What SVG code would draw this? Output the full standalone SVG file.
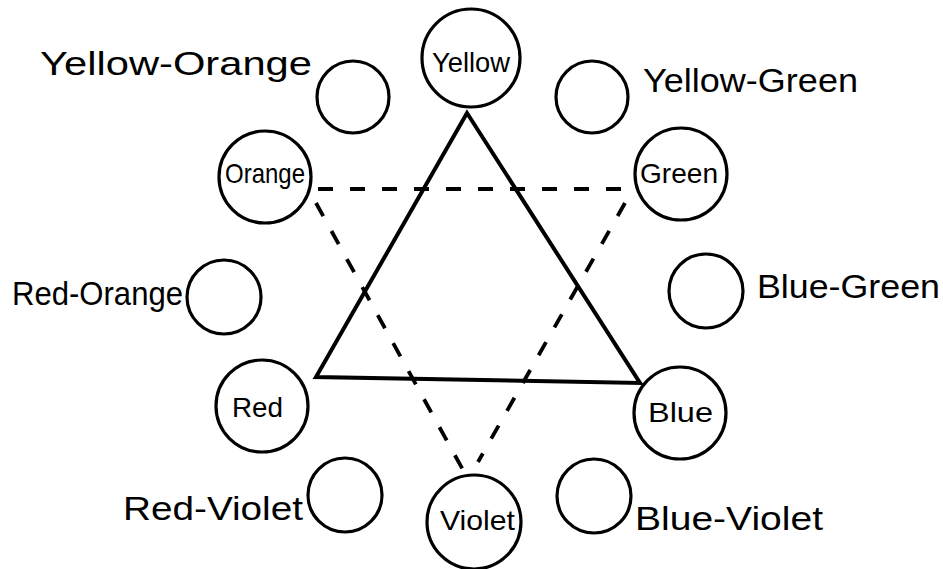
<svg xmlns="http://www.w3.org/2000/svg" width="943" height="569" viewBox="0 0 943 569">
<style>
.c{fill:#fff;stroke:#000;stroke-width:3.2}
.t{font-family:"Liberation Sans","DejaVu Sans",sans-serif;fill:#000}
.lb{font-size:34px}
.in{font-size:28px}
.solid{fill:none;stroke:#000;stroke-width:4;stroke-linejoin:miter}
.dash{fill:none;stroke:#000;stroke-width:3.8;stroke-dasharray:15 17}
</style>
<rect width="943" height="569" fill="#fff"/>
<g id="connectors">
<polygon class="solid" points="467,113 316,377 640,383"/>
<line class="dash" x1="318" y1="189" x2="625" y2="189"/>
<line class="dash" x1="316" y1="203" x2="463" y2="470"/>
<line class="dash" x1="625" y1="203" x2="478" y2="462"/>
</g>
<g id="yellow"><circle class="c" cx="471" cy="58" r="49"/><text class="t in" x="432" y="72" textLength="78" lengthAdjust="spacingAndGlyphs">Yellow</text></g>
<g id="yellow-orange"><circle class="c" cx="353" cy="97" r="36"/><text class="t lb" x="40" y="75" textLength="272" lengthAdjust="spacingAndGlyphs">Yellow-Orange</text></g>
<g id="yellow-green"><circle class="c" cx="592" cy="97" r="36"/><text class="t lb" x="643" y="92" textLength="215" lengthAdjust="spacingAndGlyphs">Yellow-Green</text></g>
<g id="orange"><circle class="c" cx="265" cy="177" r="46"/><text class="t in" x="225" y="183" textLength="80" lengthAdjust="spacingAndGlyphs">Orange</text></g>
<g id="green"><circle class="c" cx="681" cy="174" r="46"/><text class="t in" x="640" y="183" textLength="78" lengthAdjust="spacingAndGlyphs">Green</text></g>
<g id="red-orange"><circle class="c" cx="224" cy="297" r="37"/><text class="t lb" x="12" y="305" textLength="171" lengthAdjust="spacingAndGlyphs">Red-Orange</text></g>
<g id="blue-green"><circle class="c" cx="706" cy="291" r="37"/><text class="t lb" x="757" y="298" textLength="183" lengthAdjust="spacingAndGlyphs">Blue-Green</text></g>
<g id="red"><circle class="c" cx="262" cy="406" r="46"/><text class="t in" x="232" y="417" textLength="51" lengthAdjust="spacingAndGlyphs">Red</text></g>
<g id="blue"><circle class="c" cx="680" cy="413" r="46"/><text class="t in" x="648" y="422" textLength="65" lengthAdjust="spacingAndGlyphs">Blue</text></g>
<g id="red-violet"><circle class="c" cx="345" cy="495" r="37"/><text class="t lb" x="123" y="520" textLength="180" lengthAdjust="spacingAndGlyphs">Red-Violet</text></g>
<g id="blue-violet"><circle class="c" cx="594" cy="496" r="37"/><text class="t lb" x="635" y="530" textLength="188" lengthAdjust="spacingAndGlyphs">Blue-Violet</text></g>
<g id="violet"><circle class="c" cx="474" cy="522" r="47"/><text class="t in" x="440" y="530" textLength="75" lengthAdjust="spacingAndGlyphs">Violet</text></g>
</svg>
